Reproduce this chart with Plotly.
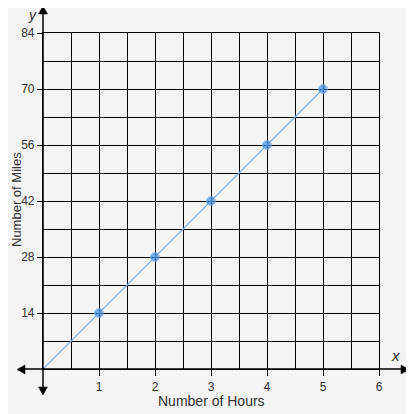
import plotly.graph_objects as go

hours = [0, 1, 2, 3, 4, 5]
miles = [0, 14, 28, 42, 56, 70]
x_ticks = [1, 2, 3, 4, 5, 6]
y_ticks = [14, 28, 42, 56, 70, 84]
x_minor = [0.5, 1.5, 2.5, 3.5, 4.5, 5.5]
y_minor = [7, 21, 35, 49, 63, 77]

OFF = 8  # page body margin
W = H = 414
pw = ph = 336
L, T = 43 - OFF, 33 - OFF
R, B = W - L - pw, H - T - ph

def px2x(p):
    return (p - OFF - L) / pw

def py2y(p):
    return (T + ph + OFF - p) / ph

def tri(pts):
    d = "M" + " L".join(f"{px2x(a):.5f},{py2y(b):.5f}" for a, b in pts) + " Z"
    return dict(type="path", xref="paper", yref="paper", path=d,
                fillcolor="black", line=dict(color="black", width=0.5))

def label(text, xp, yp, size, angle=0):
    return dict(text=text, xref="paper", yref="paper", x=px2x(xp), y=py2y(yp),
                xanchor="center", yanchor="middle", showarrow=False, borderpad=0,
                textangle=angle, font=dict(size=size, color="#333333"))

fig = go.Figure()
fig.add_trace(go.Scatter(
    x=hours, y=miles, mode="lines+markers",
    line=dict(color="#7fb0ea", width=1.2),
    marker=dict(color="#3d8fe8", size=[0 if h == 0 else 9 for h in hours]),
    showlegend=False, hoverinfo="skip"))

font = "Liberation Sans, Arial, sans-serif"
axis_common = dict(
    showgrid=True, gridcolor="black", gridwidth=1.2,
    ticks="outside", tickcolor="black", tickwidth=1,
    zeroline=False, showline=True, mirror=True, linecolor="black", linewidth=1.2,
    automargin=False, tickfont=dict(size=12, color="#333333"))

fig.update_layout(
    width=W, height=H,
    margin=dict(l=L, r=R, t=T, b=B, autoexpand=False),
    paper_bgcolor="#f4f4f4", plot_bgcolor="#f4f4f4",
    font=dict(family=font, size=12, color="#333333"),
    xaxis=dict(range=[0, 6], tickmode="array", tickvals=x_ticks, ticklen=6,
               minor=dict(tickmode="array", tickvals=x_minor, showgrid=True,
                          gridcolor="black", gridwidth=1.2, ticks=""),
               **axis_common),
    yaxis=dict(range=[0, 84], tickmode="array", tickvals=y_ticks, ticklen=5,
               minor=dict(tickmode="array", tickvals=y_minor, showgrid=True,
                          gridcolor="black", gridwidth=1.2, ticks=""),
               **axis_common),
    shapes=[
        dict(type="line", xref="paper", yref="paper",
             x0=px2x(22), x1=px2x(402), y0=0, y1=0,
             line=dict(color="black", width=1.5)),
        dict(type="line", xref="paper", yref="paper",
             x0=0, x1=0, y0=py2y(389), y1=py2y(13),
             line=dict(color="black", width=1.5)),
        tri([(17, 369.5), (25, 365), (25, 374)]),
        tri([(409, 369.5), (401, 365), (401, 374)]),
        tri([(43, 6), (38.5, 14), (47.5, 14)]),
        tri([(43, 395), (38.5, 387), (47.5, 387)]),
    ],
    annotations=[
        label("<i>y</i>", 32, 15, 14),
        label("<i>x</i>", 395, 355, 15),
        label("Number of Hours", 211, 401, 14),
        label("Number of Miles", 16, 200, 13, -90),
    ],
)

fig.write_html("out.html")
